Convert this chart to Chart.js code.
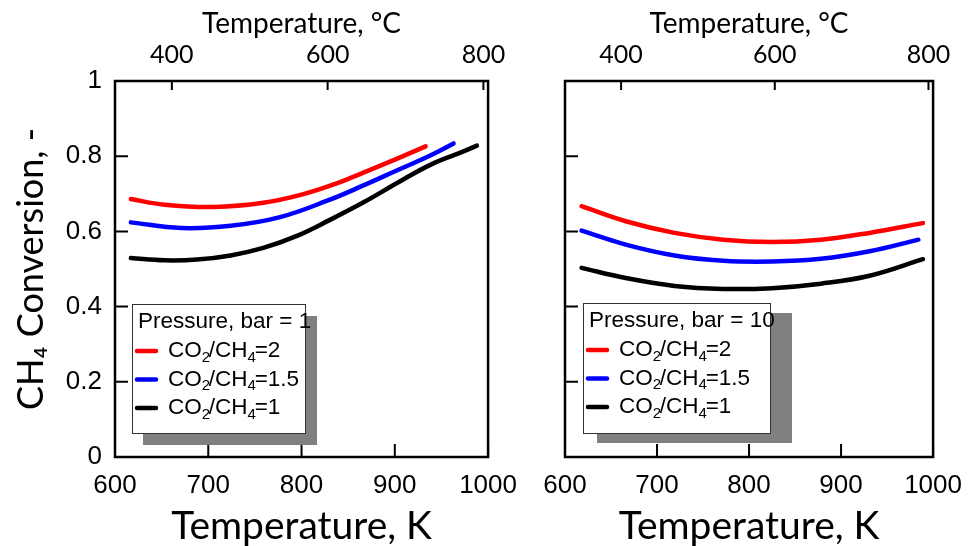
<!DOCTYPE html>
<html>
<head>
<meta charset="utf-8">
<script src="https://cdn.jsdelivr.net/npm/chart.js@4.4.1/dist/chart.umd.min.js"></script>
<style>
  html, body { margin: 0; padding: 0; background: #fff; }
  #wrap { position: relative; width: 975px; height: 546px; }
  canvas { position: absolute; top: 0; }
  #c1 { left: 0; }
  #c2 { left: 530px; }
</style>
</head>
<body>
<div id="wrap">
  <canvas id="c1" width="530" height="546"></canvas>
  <canvas id="c2" width="445" height="546"></canvas>
</div>
<script>
/* ---------------- DATA ---------------- */
const kTicks = [600, 700, 800, 900, 1000];
const cTicks = [400, 600, 800];
const yTicks = [0, 0.2, 0.4, 0.6, 0.8, 1];

const seriesLabels = ["CO₂/CH₄=2", "CO₂/CH₄=1.5", "CO₂/CH₄=1"];
const seriesColors = ["#ff0000", "#0000ff", "#000000"];
const legendTitles = ["Pressure, bar = 1", "Pressure, bar = 10"];

// pressure 1 bar
const p1_K_r2 = [617, 653, 706, 759, 802, 837, 867, 902, 933];
const p1_X_r2 = [0.686, 0.671, 0.665, 0.676, 0.699, 0.727, 0.757, 0.793, 0.826];
const p1_K_r15 = [617, 671, 724, 777, 831, 867, 902, 938, 963];
const p1_X_r15 = [0.624, 0.609, 0.615, 0.638, 0.685, 0.723, 0.762, 0.802, 0.834];
const p1_K_r1 = [617, 653, 688, 724, 759, 795, 830, 867, 902, 938, 973, 988];
const p1_X_r1 = [0.529, 0.523, 0.525, 0.536, 0.556, 0.588, 0.630, 0.678, 0.728, 0.777, 0.812, 0.828];

// pressure 10 bar
const p10_K_r2 = [618, 666, 719, 772, 825, 878, 931, 989];
const p10_X_r2 = [0.667, 0.627, 0.596, 0.578, 0.572, 0.578, 0.596, 0.622];
const p10_K_r15 = [618, 666, 719, 772, 825, 878, 931, 984];
const p10_X_r15 = [0.602, 0.565, 0.536, 0.522, 0.520, 0.527, 0.547, 0.578];
const p10_K_r1 = [618, 666, 719, 772, 825, 878, 931, 989];
const p10_X_r1 = [0.503, 0.476, 0.455, 0.447, 0.449, 0.461, 0.482, 0.526];

const ARIAL = '"Liberation Sans", Arial, sans-serif';
const CALIBRI = 'Lato, "Open Sans", sans-serif';

function pts(xs, ys) {
  return xs.map((x, i) => ({ x: x, y: ys[i] }));
}

function makeDatasets(sets) {
  return sets.map((s, i) => ({
    label: seriesLabels[i],
    data: pts(s[0], s[1]),
    borderColor: seriesColors[i],
    borderWidth: 4.5,
    borderCapStyle: "round",
    pointRadius: 0,
    fill: false,
    tension: 0.4
  }));
}

/* ---------- frame + inward ticks ---------- */
const frameTicks = {
  id: "frameTicks",
  afterDatasetsDraw(chart) {
    const ctx = chart.ctx, a = chart.chartArea;
    ctx.save();
    ctx.strokeStyle = "#000";
    ctx.lineWidth = 2.5;
    ctx.strokeRect(a.left, a.top, a.right - a.left, a.bottom - a.top);
    ctx.lineWidth = 2;
    ctx.beginPath();
    const sx = chart.scales.x, st = chart.scales.xTop, sy = chart.scales.y;
    sx.ticks.forEach(t => {
      const p = sx.getPixelForValue(t.value);
      ctx.moveTo(p, a.bottom); ctx.lineTo(p, a.bottom - 13);
    });
    st.ticks.forEach(t => {
      const p = st.getPixelForValue(t.value);
      ctx.moveTo(p, a.top); ctx.lineTo(p, a.top + 9);
    });
    sy.ticks.forEach(t => {
      const p = sy.getPixelForValue(t.value);
      ctx.moveTo(a.left, p); ctx.lineTo(a.left + 13, p);
    });
    ctx.stroke();
    ctx.restore();
  }
};

/* ---------- legend box with shadow ---------- */
function drawSubText(ctx, str, x, y, size) {
  for (const ch of str) {
    const code = ch.charCodeAt(0);
    if (code >= 0x2080 && code <= 0x2089) {
      const d = String(code - 0x2080);
      ctx.font = Math.round(size * 0.65) + "px " + ARIAL;
      ctx.fillText(d, x, y + size * 0.3);
      x += ctx.measureText(d).width * 0.85;
    } else {
      ctx.font = size + "px " + ARIAL;
      ctx.fillText(ch, x, y);
      x += ctx.measureText(ch).width;
    }
  }
}

const boxLegend = {
  id: "boxLegend",
  afterDraw(chart, args, o) {
    const ctx = chart.ctx, a = chart.chartArea;
    const x = a.left + o.dx, y = a.top + o.dy;
    ctx.save();
    ctx.fillStyle = "#808080";
    ctx.fillRect(x + o.sx, y + o.sy, o.sw, o.sh);
    ctx.fillStyle = "#fff";
    ctx.fillRect(x, y, o.w, o.h);
    ctx.strokeStyle = "#333";
    ctx.lineWidth = 1;
    ctx.strokeRect(x + 0.5, y + 0.5, o.w, o.h);
    ctx.fillStyle = "#000";
    ctx.textBaseline = "middle";
    ctx.textAlign = "left";
    ctx.font = "22.5px " + ARIAL;
    ctx.fillText(o.title, x + 6, y + 18);
    chart.data.datasets.forEach((ds, i) => {
      const ry = y + 47 + i * 28.5;
      ctx.strokeStyle = ds.borderColor;
      ctx.lineWidth = 4.5;
      ctx.lineCap = "round";
      ctx.beginPath();
      ctx.moveTo(x + 5, ry);
      ctx.lineTo(x + 24, ry);
      ctx.stroke();
      ctx.fillStyle = "#000";
      drawSubText(ctx, ds.label, x + 36, ry, 22.5);
    });
    ctx.restore();
  }
};

function makeScales(showY, yWidth) {
  return {
    x: {
      type: "linear", position: "bottom", min: 600, max: 1000,
      afterBuildTicks: s => { s.ticks = kTicks.map(v => ({ value: v })); },
      afterFit: s => { s.height = 89; },
      grid: { display: false, drawTicks: false },
      border: { display: false },
      ticks: { padding: 13, color: "#000", maxRotation: 0, autoSkip: false,
               font: { family: ARIAL, size: 26 },
               callback: v => String(v) },
      title: { display: true, text: "Temperature, K", color: "#000", padding: 0,
               font: { family: CALIBRI, size: 39, lineHeight: 1 } }
    },
    xTop: {
      type: "linear", position: "top", min: 327, max: 806,
      afterBuildTicks: s => { s.ticks = cTicks.map(v => ({ value: v })); },
      afterFit: s => { s.height = 81; },
      grid: { display: false, drawTicks: false },
      border: { display: false },
      ticks: { padding: 11, color: "#000", maxRotation: 0, autoSkip: false,
               font: { family: CALIBRI, size: 25, lineHeight: 1.2 },
               callback: v => String(v) },
      title: { display: true, text: "Temperature, °C", color: "#000",
               padding: { top: 7, bottom: 0 },
               font: { family: CALIBRI, size: 28, lineHeight: 1.2 } }
    },
    y: {
      type: "linear", position: "left", min: 0, max: 1,
      afterBuildTicks: s => { s.ticks = yTicks.map(v => ({ value: v })); },
      afterFit: s => { s.width = yWidth; },
      grid: { display: false, drawTicks: false },
      border: { display: false },
      ticks: { display: showY, padding: 13, color: "#000",
               font: { family: ARIAL, size: 26 },
               callback: v => String(v) },
      title: { display: showY, text: "CH₄ Conversion, -", color: "#000",
               padding: { top: 13, bottom: 0 },
               font: { family: CALIBRI, size: 36, lineHeight: 1 } }
    }
  };
}

new Chart(document.getElementById("c1"), {
  type: "line",
  data: {
    datasets: makeDatasets([[p1_K_r2, p1_X_r2], [p1_K_r15, p1_X_r15], [p1_K_r1, p1_X_r1]])
  },
  options: {
    responsive: false,
    animation: false,
    layout: { padding: { left: 0, right: 38, top: 0, bottom: 0 } },
    scales: makeScales(true, 115),
    plugins: {
      legend: { display: false },
      tooltip: { enabled: false },
      boxLegend: { title: legendTitles[0], dx: 17, dy: 223, w: 173, h: 129,
                   sx: 11, sy: 12, sw: 174, sh: 129 }
    }
  },
  plugins: [frameTicks, boxLegend]
});

new Chart(document.getElementById("c2"), {
  type: "line",
  data: {
    datasets: makeDatasets([[p10_K_r2, p10_X_r2], [p10_K_r15, p10_X_r15], [p10_K_r1, p10_X_r1]])
  },
  options: {
    responsive: false,
    animation: false,
    layout: { padding: { left: 0, right: 33, top: 0, bottom: 0 } },
    scales: makeScales(false, 35),
    plugins: {
      legend: { display: false },
      tooltip: { enabled: false },
      boxLegend: { title: legendTitles[1], dx: 18, dy: 222, w: 187, h: 130,
                   sx: 14, sy: 10, sw: 195, sh: 130 }
    }
  },
  plugins: [frameTicks, boxLegend]
});
</script>
</body>
</html>
